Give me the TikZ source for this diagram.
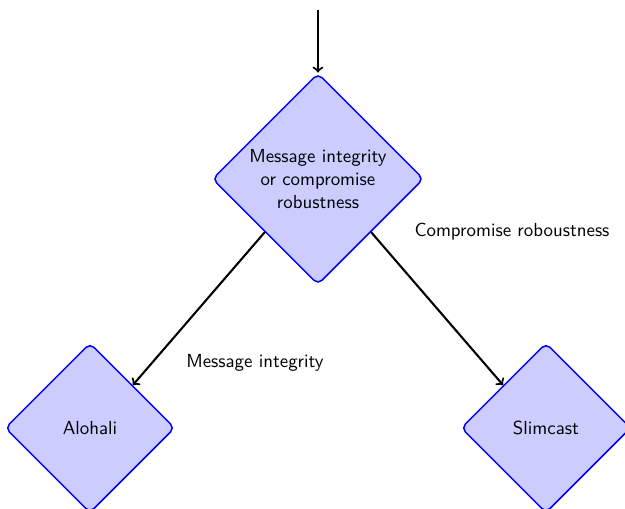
\documentclass[tikz,border=0pt]{standalone}
\usetikzlibrary{shapes.geometric,positioning}

\begin{document}
\begin{tikzpicture}[->,line width=1.1pt,on grid,every node/.style={font=\sffamily},
    decision/.style={diamond,aspect=1,draw=blue,fill=blue!20,rounded corners=3pt,
      thick,inner sep=0pt,align=center}]
  \useasboundingbox (-5.923,-6.147) rectangle (5.719,3.334);
  \node[decision,minimum size=112pt] (choice) {Message integrity\\or compromise\\robustness};
  \node[decision,minimum size=90pt,below left=4.638cm and 4.247cm of choice] (alohali) {Alohali};
  \node[decision,minimum size=90pt,below right=4.638cm and 4.247cm of choice] (slimcast) {Slimcast};
  \coordinate[above=3.148cm of choice] (start);
  \node (intlabel) at (-1.173,-3.427) {Message integrity};
  \node (roblabel) at (3.614,-0.987) {Compromise roboustness};
  \path (start) edge (choice.north);
  \path (choice.south west) edge (alohali.north east);
  \path (choice.south east) edge (slimcast.north west);
\end{tikzpicture}
\end{document}
